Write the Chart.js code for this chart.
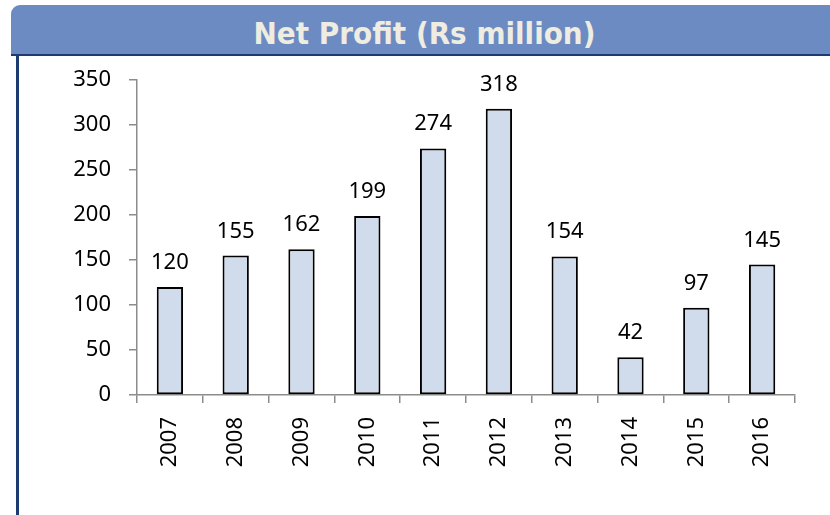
<!DOCTYPE html>
<html>
<head>
<meta charset="utf-8">
<script src="https://cdn.jsdelivr.net/npm/chart.js@4"></script>
<style>
  html, body { margin: 0; padding: 0; background: #fff; }
  body { width: 830px; height: 515px; position: relative; overflow: hidden; }
  #banner {
    position: absolute; left: 11px; top: 5px; height: 49px;
    background: #6c8bc2; border-top-left-radius: 9px;
    border-bottom: 2px solid #1d3b70;
    color: #efece1; font: bold 31px "DejaVu Sans Condensed", "DejaVu Sans", sans-serif;
    font-stretch: condensed;
    text-align: center; line-height: 56px; box-sizing: content-box;
    padding-left: 8px; width: 811px;
  }
  #panel {
    position: absolute; left: 16px; top: 56px; width: 814px; height: 459px;
    border-left: 3px solid #1d3b70; box-sizing: border-box;
  }
  #wrap { position: absolute; left: 19px; top: 57px; width: 811px; height: 458px; }
</style>
</head>
<body>
<div id="banner">Net Profit (Rs million)</div>
<div id="panel"></div>
<div id="wrap"><canvas id="chart"></canvas></div>
<script>
const years = ['2007', '2008', '2009', '2010', '2011', '2012', '2013', '2014', '2015', '2016'];
const netProfit = [120, 155, 162, 199, 274, 318, 154, 42, 97, 145];

const labelFont = '22px "Noto Sans", "Open Sans", sans-serif';

// value labels above each bar
const barLabels = {
  id: 'barLabels',
  afterDatasetsDraw(chart) {
    const ctx = chart.ctx;
    const meta = chart.getDatasetMeta(0);
    ctx.save();
    ctx.font = labelFont;
    ctx.fillStyle = '#000';
    ctx.textAlign = 'center';
    ctx.textBaseline = 'alphabetic';
    meta.data.forEach((bar, i) => {
      ctx.fillText(netProfit[i], bar.x, bar.y - 18);
    });
    ctx.restore();
  }
};

new Chart(document.getElementById('chart'), {
  type: 'bar',
  data: {
    labels: years,
    datasets: [{
      data: netProfit,
      backgroundColor: '#d0dbec',
      borderColor: '#000',
      borderWidth: 2,
      borderSkipped: false,
      barPercentage: 0.4,
      categoryPercentage: 1.0
    }]
  },
  options: {
    responsive: true,
    maintainAspectRatio: false,
    animation: false,
    layout: { padding: { top: 23, right: 35, left: 0, bottom: 0 } },
    plugins: { legend: { display: false }, tooltip: { enabled: false }, title: { display: false } },
    scales: {
      x: {
        grid: { drawOnChartArea: false, drawTicks: true, tickLength: 8, color: '#8c8c8c', lineWidth: 1.5, offset: true },
        border: { color: '#8c8c8c', width: 1.5 },
        ticks: {
          color: '#000', font: { family: '"Noto Sans", "Open Sans", sans-serif', size: 22 },
          minRotation: 90, maxRotation: 90, padding: 14, autoSkip: false
        },
        afterFit: s => { s.height = 120; s.paddingLeft = 0; s.paddingRight = 0; }
      },
      y: {
        min: 0, max: 350,
        grid: { drawOnChartArea: false, drawTicks: true, tickLength: 8, color: '#8c8c8c', lineWidth: 1.5 },
        border: { color: '#8c8c8c', width: 1.5 },
        ticks: {
          stepSize: 50, color: '#000', padding: 18,
          font: { family: '"Noto Sans", "Open Sans", sans-serif', size: 22 }
        },
        afterFit: s => { s.width = 118; s.paddingTop = 0; s.paddingBottom = 0; }
      }
    }
  },
  plugins: [barLabels]
});
</script>
</body>
</html>
